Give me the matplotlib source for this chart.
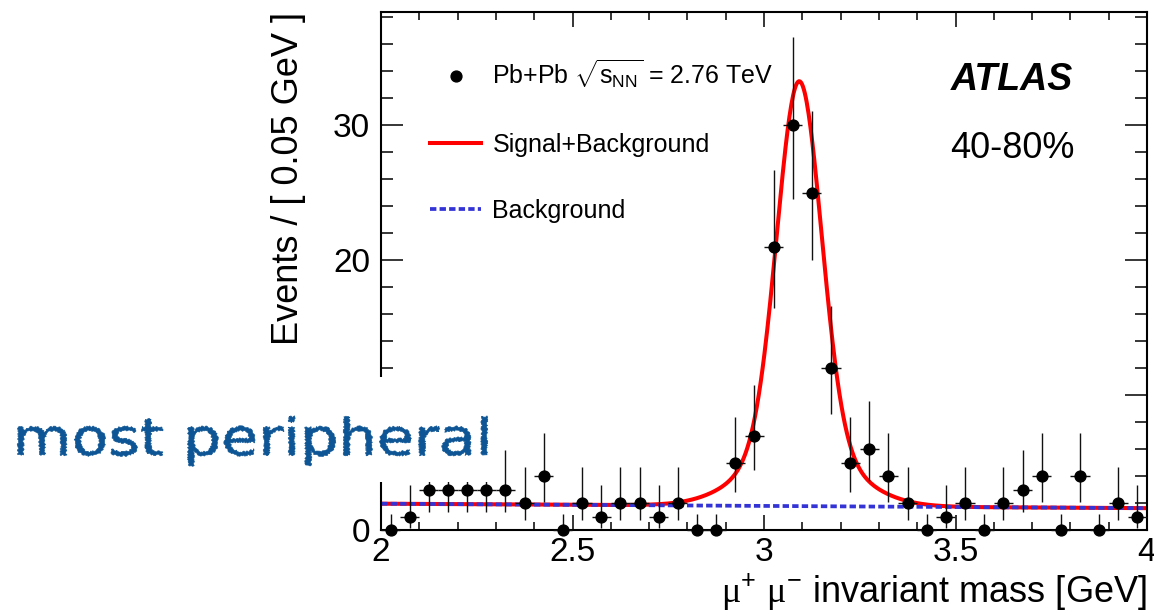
import numpy as np
import matplotlib
matplotlib.use("Agg")
import matplotlib.pyplot as plt
from matplotlib.lines import Line2D
from matplotlib.patches import Rectangle, PathPatch
from matplotlib.textpath import TextPath
from matplotlib.font_manager import FontProperties
from matplotlib.transforms import Affine2D, IdentityTransform
from matplotlib.ticker import MultipleLocator, FuncFormatter

plt.rcParams["font.family"] = ["Liberation Sans", "DejaVu Sans"]
plt.rcParams["mathtext.fontset"] = "custom"
plt.rcParams["mathtext.rm"] = "Liberation Sans"
plt.rcParams["mathtext.it"] = "Liberation Sans"
plt.rcParams["mathtext.sf"] = "Liberation Serif"

# ---- data: dimuon invariant mass, 0.05 GeV bins from 2 to 4 GeV ----
mass_lo, mass_hi, bin_width = 2.0, 4.0, 0.05
bin_centers = np.arange(mass_lo + bin_width / 2, mass_hi, bin_width)
counts = [0, 1, 3, 3, 3, 3, 3, 2, 4, 0,
          2, 1, 2, 2, 1, 2, 0, 0, 5, 7,
          21, 30, 25, 12, 5, 6, 4, 2, 0, 1,
          2, 0, 2, 3, 4, 0, 4, 0, 2, 1]

# 68% Poisson confidence intervals (lower, upper) for each observed count
poisson_interval = {
    0: (0.0, 1.15), 1: (0.17, 3.30), 2: (0.71, 4.64), 3: (1.37, 5.92),
    4: (2.09, 7.16), 5: (2.84, 8.38), 6: (3.62, 9.58), 7: (4.42, 10.77),
    12: (8.57, 16.57), 21: (16.45, 26.67), 25: (20.03, 31.07),
    30: (24.55, 36.54),
}

# fit result: linear background + double-Gaussian J/psi peak
bkg_at_lo, bkg_at_hi = 1.95, 1.62
peak_mass = 3.092
core_amp, core_sigma = 27.0, 0.0575
tail_amp, tail_sigma = 4.5, 0.13

xtick_values = [2, 2.5, 3, 3.5, 4]
ytick_values = [0, 10, 20, 30]

legend_labels = [r"Pb+Pb $\sqrt{s_{\mathrm{NN}}}$ = 2.76 TeV",
                 "Signal+Background", "Background"]

# ---- derived arrays ----
counts = np.array(counts)
yerr_lo = np.array([c - poisson_interval[c][0] for c in counts])
yerr_hi = np.array([poisson_interval[c][1] - c for c in counts])

mass_grid = np.linspace(mass_lo, mass_hi, 800)


def background(m):
    return bkg_at_lo + (bkg_at_hi - bkg_at_lo) * (m - mass_lo) / (mass_hi - mass_lo)


def signal(m):
    d = m - peak_mass
    return (core_amp * np.exp(-0.5 * (d / core_sigma) ** 2)
            + tail_amp * np.exp(-0.5 * (d / tail_sigma) ** 2))


W, H = 1154, 613
fig = plt.figure(figsize=(W / 100, H / 100), dpi=100)
ax = fig.add_axes([381 / W, 83 / H, (1147 - 381) / W, (530 - 12) / H])

red = "#ff0000"
blue = "#3434d6"
bkg_style = (0, (1.7, 0.85))

ax.plot(mass_grid, signal(mass_grid) + background(mass_grid),
        color=red, lw=2.9, zorder=2, solid_capstyle="butt")
ax.plot(mass_grid, background(mass_grid), color=blue, lw=2.7,
        ls=bkg_style, zorder=2.5, dash_capstyle="butt")
ax.errorbar(bin_centers, counts, xerr=bin_width / 2, yerr=[yerr_lo, yerr_hi],
            fmt="o", color="black", ecolor="#111111", elinewidth=1.0,
            markersize=7.8, capsize=0, zorder=3, clip_on=False)

ax.set_xlim(mass_lo, mass_hi)
ax.set_ylim(0, 38.4)

ax.xaxis.set_major_locator(MultipleLocator(0.5))
ax.xaxis.set_minor_locator(MultipleLocator(0.1))
ax.yaxis.set_major_locator(MultipleLocator(10))
ax.yaxis.set_minor_locator(MultipleLocator(2))
ax.set_xticks(xtick_values)
ax.set_yticks(ytick_values)
fmt = FuncFormatter(lambda v, p: f"{v:g}")
ax.xaxis.set_major_formatter(fmt)
ax.yaxis.set_major_formatter(fmt)

ax.tick_params(which="both", direction="in", top=True, right=True,
               width=1.1, color="black")
ax.tick_params(axis="x", which="major", length=11, labelsize=24, pad=5)
ax.tick_params(axis="x", which="minor", length=5.5)
ax.tick_params(axis="y", which="major", length=16, labelsize=24, pad=8)
ax.tick_params(axis="y", which="minor", length=8.5)
for s in ax.spines.values():
    s.set_linewidth(1.5)

# axis titles, right/top aligned
fig.text(1147 / W, 10 / H, r"$\mathsf{\mu}^{+}\ \mathsf{\mu}^{-}$ invariant mass [GeV]",
         ha="right", va="baseline", fontsize=26)
fig.text(298 / W, (H - 12) / H, "Events / [ 0.05 GeV ]", rotation=90,
         rotation_mode="anchor", ha="right", va="baseline", fontsize=26)

# legend
handles = [
    Line2D([], [], ls="none", marker="o", color="black", markersize=7.8),
    Line2D([], [], color=red, lw=2.9),
    Line2D([], [], color=blue, lw=2.7, ls=bkg_style, dash_capstyle="butt"),
]
ax.legend(handles, legend_labels, loc="upper left",
          bbox_to_anchor=((430 - 381) / 766, (530 - 58) / 518),
          frameon=False, fontsize=18, handlelength=2.05, handletextpad=0.45,
          labelspacing=1.68, borderpad=0, borderaxespad=0)

ax.text((951 - 381) / 766, (530 - 90) / 518, "ATLAS", transform=ax.transAxes,
        fontsize=27, fontweight="bold", fontstyle="italic", va="baseline")
ax.text((950 - 381) / 766, (530 - 158) / 518, "40-80%", transform=ax.transAxes,
        fontsize=26, va="baseline")

# handwritten-style annotation on a white panel
fig.patches.append(Rectangle((0, (H - 482) / H), 496 / W, (482 - 377) / H,
                             transform=fig.transFigure, facecolor="white",
                             edgecolor="none", zorder=5))
tp = TextPath((0, 0), "most peripheral",
              prop=FontProperties(family="DejaVu Sans"), size=47)
bb = tp.get_extents()
sx = (487 - 18) / bb.width
sy = 1.08
tr = Affine2D().translate(-bb.x0, 0).scale(sx, sy).translate(18, H - 455)
note = PathPatch(tr.transform_path(tp), transform=IdentityTransform(),
                 facecolor="#0d5594", edgecolor="#0d5594", lw=0.5, zorder=6)
note.set_sketch_params(scale=0.8, length=3, randomness=3)
fig.patches.append(note)

fig.savefig("out.png", dpi=100)
